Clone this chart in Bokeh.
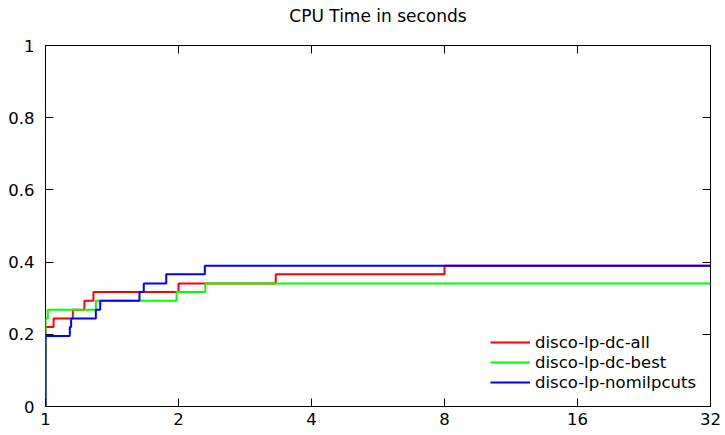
from bokeh.plotting import figure
from bokeh.models import (Range1d, FixedTicker, LinearAxis, LogAxis, Legend,
                          LegendItem, CustomJSTickFormatter)
from bokeh.embed import file_html
from bokeh.resources import INLINE

title_text = "CPU Time in seconds"
x_ticks = [1, 2, 4, 8, 16, 32]
x_tick_labels = ["1", "2", "4", "8", "16", "32"]
y_ticks = [0, 0.2, 0.4, 0.6, 0.8, 1]
y_tick_labels = ["0", "0.2", "0.4", "0.6", "0.8", "1"]

names = ["disco-lp-dc-all", "disco-lp-dc-best", "disco-lp-nomilpcuts"]
colors = ["#ff0000", "#00ff00", "#0000ff"]

all_ratio = [1, 1.043, 1.153, 1.225, 1.284, 2.0, 3.32, 8.0]
all_frac = [0.220, 0.244, 0.268, 0.293, 0.317, 0.341, 0.366, 0.390]

best_ratio = [1, 1.012, 1.30, 1.98, 2.30]
best_frac = [0.244, 0.268, 0.293, 0.317, 0.341]

nomil_ratio = [1, 1.135, 1.143, 1.30, 1.33, 1.632, 1.669, 1.876, 2.294]
nomil_frac = [0.195, 0.220, 0.244, 0.268, 0.293, 0.317, 0.341, 0.366, 0.390]

x_min, x_max = 1, 32
FONT = "DejaVu Sans"

p = figure(width=725, height=435, x_axis_type="log",
           x_range=Range1d(x_min, x_max), y_range=Range1d(0, 1),
           output_backend="svg", toolbar_location=None,
           min_border_left=45, min_border_right=15,
           min_border_top=45, min_border_bottom=29)
# a trailing blank line lifts the title towards the top edge, as in the reference
p.title.text = title_text + "\n"
p.title.align = "center"
p.title.vertical_align = "bottom"
p.title.text_font = FONT
p.title.text_font_size = "17px"
p.title.text_font_style = "normal"
p.title.text_color = "black"
p.title.standoff = 0

p.xgrid.visible = False
p.ygrid.visible = False
p.outline_line_color = "black"
p.outline_line_width = 1
p.background_fill_color = "white"
p.border_fill_color = "white"

def style_axis(ax, labels_on=True):
    ax.axis_line_color = None
    ax.major_tick_in = 8
    ax.major_tick_out = 0
    ax.minor_tick_line_color = None
    ax.major_tick_line_color = "black"
    ax.major_label_text_font = FONT
    ax.major_label_text_color = "black"
    if labels_on:
        ax.major_label_text_font_size = "16.5px"
    else:
        ax.formatter = CustomJSTickFormatter(code="return ''")
        ax.major_label_text_font_size = "1px"
        ax.major_label_standoff = 0

xa = p.xaxis[0]
xa.ticker = FixedTicker(ticks=x_ticks)
xa.major_label_overrides = {t: l for t, l in zip(x_ticks, x_tick_labels)}
style_axis(xa)
xa.major_label_standoff = 6

ya = p.yaxis[0]
ya.ticker = FixedTicker(ticks=y_ticks)
ya.major_label_overrides = {t: l for t, l in zip(y_ticks, y_tick_labels)}
style_axis(ya)
ya.major_label_standoff = 11

top_ax = LogAxis(ticker=FixedTicker(ticks=x_ticks))
style_axis(top_ax, labels_on=False)
p.add_layout(top_ax, "above")
right_ax = LinearAxis(ticker=FixedTicker(ticks=y_ticks))
style_axis(right_ax, labels_on=False)
p.add_layout(right_ax, "right")

items = []
for name, color, rx, fy in zip(names, colors,
                               [all_ratio, best_ratio, nomil_ratio],
                               [all_frac, best_frac, nomil_frac]):
    xs = [rx[0]] + rx + [x_max]
    ys = [0] + fy + [fy[-1]]
    r = p.step(xs, ys, mode="after", line_color=color, line_width=2)
    items.append(LegendItem(label=name, renderers=[r]))

legend = Legend(items=items, location="bottom_right")
legend.label_text_font = FONT
legend.label_text_font_size = "16.5px"
legend.label_text_color = "black"
legend.glyph_width = 40
legend.glyph_height = 20
legend.label_height = 20
legend.spacing = 0
legend.padding = 4
legend.margin = 14
legend.border_line_color = None
legend.background_fill_alpha = 0
p.add_layout(legend)

open("out.html", "w").write(file_html(p, INLINE))
